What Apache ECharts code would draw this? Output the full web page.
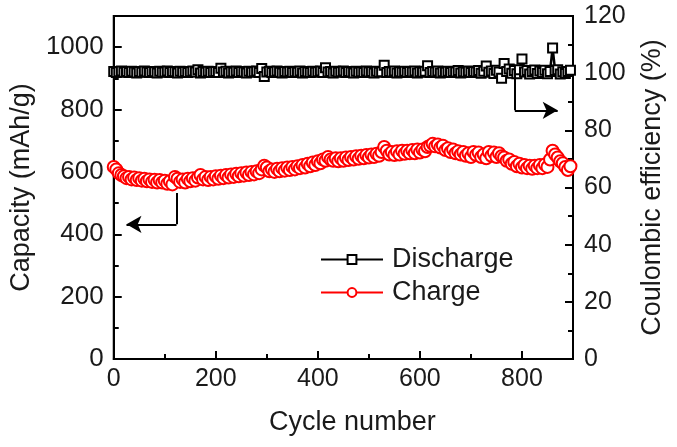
<!DOCTYPE html>
<html>
<head>
<meta charset="utf-8">
<script src="https://cdn.jsdelivr.net/npm/echarts@6/dist/echarts.min.js"></script>
<style>
html,body{margin:0;padding:0;background:#fff;}
#chart{width:677px;height:447px;}
</style>
</head>
<body>
<div id="chart"></div>
<script>
// Cycle numbers
const cycles = [
0,5,10,15,20,25,30,35,40,45,50,55,60,65,70,75,80,85,90,95,
100,105,110,115,120,125,130,135,140,145,150,155,160,165,170,175,180,185,190,195,
200,205,210,215,220,225,230,235,240,245,250,255,260,265,270,275,280,285,290,295,
300,305,310,315,320,325,330,335,340,345,350,355,360,365,370,375,380,385,390,395,
400,405,410,415,420,425,430,435,440,445,450,455,460,465,470,475,480,485,490,495,
500,505,510,515,520,525,530,535,540,545,550,555,560,565,570,575,580,585,590,595,
600,605,610,615,620,625,630,635,640,645,650,655,660,665,670,675,680,685,690,695,
700,705,710,715,720,725,730,735,740,745,750,755,760,765,770,775,780,785,790,795,
800,805,810,815,820,825,830,835,840,845,850,855,860,865,870,875,880,885,890,895];

// Coulombic efficiency (%) - "Discharge" legend entry, right axis
const efficiency = [
100.6,100.2,100.5,100.8,100.3,100.6,100.2,100.7,100.4,100.1,100.6,100.3,100.8,100.4,100.2,100.6,100.5,100.1,100.7,100.3,
100.4,100.8,100.2,100.6,100.5,100.1,100.7,100.3,100.6,100.2,100.5,100.8,100.4,101.2,100.1,100.6,100.3,100.7,100.2,100.5,
100.6,100.2,101.7,100.4,100.7,100.1,100.5,100.3,100.8,100.2,100.6,100.4,100.1,100.7,100.3,100.5,100.8,100.2,101.6,98.8,
100.4,100.7,100.2,100.5,100.8,100.3,100.1,100.6,100.4,100.7,100.2,100.5,100.3,100.8,100.1,100.6,100.4,100.2,100.7,100.3,
100.5,100.8,100.2,101.9,100.4,100.6,100.1,100.7,100.3,100.5,100.8,100.2,100.6,100.4,100.1,100.7,100.3,100.5,100.2,100.8,
100.4,100.6,100.1,100.7,100.3,100.5,102.8,100.2,100.6,100.4,100.8,100.1,100.5,100.3,100.7,100.2,100.6,100.4,100.8,100.1,
100.5,100.3,100.7,102.6,100.2,100.6,100.4,100.8,100.1,100.5,100.3,100.7,100.2,100.6,100.4,100.9,100.1,100.5,100.3,100.8,
100.2,100.6,100.4,100.9,100.0,100.7,102.5,100.3,100.8,99.9,101.0,100.4,98.2,103.4,100.6,101.5,100.0,100.9,99.8,101.2,
105.0,100.4,100.9,99.7,100.6,101.1,99.9,100.8,100.2,101.0,99.8,100.6,108.8,100.9,101.2,99.7,100.5,99.9,100.6,101.0];

// Charge capacity (mAh/g) - left axis
const chargeCapacity = [
616,608,596,590,586,580,584,576,582,574,580,572,578,570,576,568,575,566,574,566,
572,562,570,560,584,578,568,576,566,578,570,580,572,582,590,576,584,574,584,576,
586,578,588,580,590,582,592,584,594,586,596,588,598,590,600,592,602,596,608,620,
614,602,608,600,610,602,612,604,614,606,616,608,618,612,622,614,626,618,630,622,
634,628,640,636,648,640,636,644,634,644,636,646,638,648,640,650,642,652,644,654,
646,656,648,658,652,664,680,668,656,664,654,666,656,668,658,668,660,670,660,672,
662,672,666,680,684,690,682,688,678,684,670,676,664,672,660,666,656,664,652,660,
648,664,654,662,648,656,644,664,652,662,648,660,650,646,636,640,626,632,618,626,
614,622,612,620,610,620,612,622,612,624,616,640,668,656,646,634,628,616,606,618];

const xTicks = [0,200,400,600,800];
const leftTicks = [0,200,400,600,800,1000];
const rightTicks = [0,20,40,60,80,100,120];

const seriesNames = ['Discharge','Charge'];

const effData = cycles.map((c,i)=>[c, efficiency[i]]);
const chgData = cycles.map((c,i)=>[c, chargeCapacity[i]]);

const FONT = 'Liberation Sans, Arial, sans-serif';
const TXT = '#1a1a1a';

const chart = echarts.init(document.getElementById('chart'));

const axisLineStyle = {show:true, lineStyle:{color:'#000', width:2}};
const tickStyle = {show:true, inside:true, length:8, lineStyle:{color:'#000', width:2}};
const minorStyle = {show:true, splitNumber:2, length:5, lineStyle:{color:'#000', width:2}};

chart.setOption({
  animation:false,
  backgroundColor:'#fff',
  grid:{left:111, right:104, top:16, bottom:88, show:true, borderColor:'#000', borderWidth:2, backgroundColor:'transparent'},
  legend:{
    orient:'vertical', left:315, top:241,
    itemWidth:62, itemHeight:11, itemGap:6,
    data:seriesNames,
    textStyle:{fontSize:27, fontFamily:FONT, color:TXT, padding:[0,0,0,4]}
  },
  xAxis:{
    type:'value', min:0, max:900, interval:200,
    name:'Cycle number', nameLocation:'middle', nameGap:50,
    nameTextStyle:{fontSize:27, fontFamily:FONT, color:TXT, padding:[0,0,0,18]},
    axisLine:axisLineStyle, axisTick:tickStyle, minorTick:minorStyle,
    axisLabel:{fontSize:25, fontFamily:FONT, color:TXT, margin:8, showMaxLabel:false,
      formatter:v=> xTicks.indexOf(v)>=0 ? String(v) : ''},
    splitLine:{show:false}
  },
  yAxis:[{
    type:'value', min:0, max:1100, interval:200, position:'left',
    name:'Capacity (mAh/g)', nameLocation:'middle', nameGap:76,
    nameTextStyle:{fontSize:27, fontFamily:FONT, color:TXT},
    axisLine:axisLineStyle, axisTick:tickStyle, minorTick:minorStyle,
    axisLabel:{fontSize:26, fontFamily:FONT, color:TXT, margin:10, showMaxLabel:false,
      formatter:v=> leftTicks.indexOf(v)>=0 ? String(v) : ''},
    splitLine:{show:false}
  },{
    type:'value', min:0, max:120, interval:20, position:'right',
    name:'Coulombic efficiency (%)', nameLocation:'middle', nameGap:66,
    nameTextStyle:{fontSize:27, fontFamily:FONT, color:TXT},
    axisLine:axisLineStyle, axisTick:tickStyle, minorTick:minorStyle,
    axisLabel:{fontSize:25, fontFamily:FONT, color:TXT, margin:11,
      formatter:v=> rightTicks.indexOf(v)>=0 ? String(v) : ''},
    splitLine:{show:false}
  }],
  series:[{
    name:seriesNames[0], type:'line', yAxisIndex:1, data:effData,
    symbol:'emptyRect', symbolSize:9, showAllSymbol:true,
    lineStyle:{color:'#000', width:2.5},
    itemStyle:{color:'#000', borderColor:'#000', borderWidth:2},
    z:3,
    markLine:{
      silent:true, symbol:['none','none'], label:{show:false},
      lineStyle:{color:'#000', width:2, type:'solid'},
      data:[[{coord:[786,101]},{coord:[786,87]}]]
    }
  },{
    name:seriesNames[1], type:'line', yAxisIndex:0, data:chgData,
    symbol:'emptyCircle', symbolSize:12, showAllSymbol:true,
    lineStyle:{color:'#ff0000', width:2.5},
    itemStyle:{color:'#ff0000', borderColor:'#ff0000', borderWidth:2.2},
    z:2,
    markLine:{
      silent:true, symbol:['none','none'], label:{show:false},
      lineStyle:{color:'#000', width:2, type:'solid'},
      data:[[{coord:[123,532]},{coord:[123,432]}]]
    }
  },{
    name:'arrowL', type:'line', yAxisIndex:0, data:[], silent:true,
    markLine:{
      silent:true, symbol:['none','arrow'], symbolSize:[13,15], label:{show:false},
      lineStyle:{color:'#000', width:2, type:'solid'},
      data:[[{coord:[123,432]},{coord:[25,432]}]]
    }
  },{
    name:'arrowR', type:'line', yAxisIndex:1, data:[], silent:true,
    markLine:{
      silent:true, symbol:['none','arrow'], symbolSize:[13,15], label:{show:false},
      lineStyle:{color:'#000', width:2, type:'solid'},
      data:[[{coord:[786,87]},{coord:[870,87]}]]
    }
  }]
});
</script>
</body>
</html>
